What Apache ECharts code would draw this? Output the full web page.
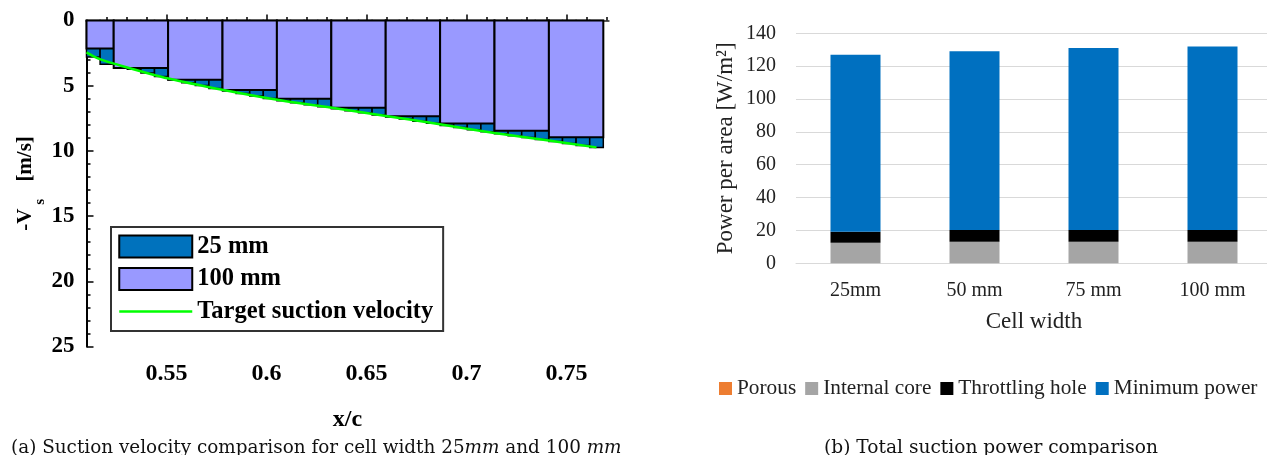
<!DOCTYPE html>
<html><head><meta charset="utf-8">
<script src="https://cdn.jsdelivr.net/npm/echarts@6/dist/echarts.min.js"></script>
<style>html,body{margin:0;padding:0;background:#fff}#c{width:1267px;height:455px}</style>
</head><body><div id="c"></div>
<script>
// ---------- (a) Suction velocity ----------
const edges25 = [0.5100, 0.5168, 0.5236, 0.5304, 0.5372, 0.5440, 0.5508, 0.5576, 0.5644, 0.5712,
  0.5780, 0.5848, 0.5916, 0.5984, 0.6052, 0.6120, 0.6188, 0.6256, 0.6324, 0.6392,
  0.6460, 0.6528, 0.6596, 0.6664, 0.6732, 0.6800, 0.6868, 0.6936, 0.7004, 0.7072,
  0.7140, 0.7208, 0.7276, 0.7344, 0.7412, 0.7480, 0.7548, 0.7616, 0.7684];
const vel25 = [2.80, 3.35, 3.45, 3.73, 4.02, 4.30, 4.55, 4.77, 4.99, 5.21,
  5.41, 5.60, 5.79, 5.98, 6.16, 6.31, 6.46, 6.61, 6.77, 6.92,
  7.08, 7.24, 7.40, 7.56, 7.72, 7.88, 8.05, 8.21, 8.38, 8.54,
  8.69, 8.84, 8.98, 9.13, 9.28, 9.43, 9.58, 9.73];
const edges100 = [0.5100, 0.5236, 0.5508, 0.5780, 0.6052, 0.6324, 0.6596, 0.6868, 0.7140, 0.7412, 0.7684];
const vel100 = [2.15, 3.65, 4.55, 5.33, 6.00, 6.70, 7.34, 7.90, 8.45, 8.95];
const targetX = [0.5100, 0.5135, 0.5166, 0.5237, 0.5510, 0.5785, 0.6069, 0.6320, 0.6597, 0.6867, 0.7139, 0.7411, 0.7650];
const targetV = [2.45, 2.75, 2.96, 3.31, 4.45, 5.33, 6.12, 6.68, 7.32, 7.96, 8.62, 9.20, 9.73];
const xMajorTicks = [0.55, 0.6, 0.65, 0.7, 0.75];
const xMinorTicks = [0.52, 0.53, 0.54, 0.56, 0.57, 0.58, 0.59, 0.61, 0.62, 0.63, 0.64,
  0.66, 0.67, 0.68, 0.69, 0.71, 0.72, 0.73, 0.74, 0.76, 0.77];

// ---------- (b) Total suction power ----------
const categories = ['25mm', '50 mm', '75 mm', '100 mm'];
const porous = [0, 0, 0, 0];
const internalCore = [12.5, 13.1, 13.1, 13.1];
const throttlingHole = [6.7, 7.1, 7.1, 7.1];
const minimumPower = [107.8, 108.8, 110.8, 111.8];

const TNR = "'Liberation Serif', 'Times New Roman', serif";
const CAP = "'DejaVu Serif', serif";

function cells(edges, vals) { return vals.map((v, i) => [edges[i], edges[i + 1], v]); }
function rectRenderer(lw) {
  return function (params, api) {
    const p0 = api.coord([api.value(0), 0]);
    const p1 = api.coord([api.value(1), api.value(2)]);
    return {
      type: 'rect',
      shape: { x: p0[0], y: p0[1], width: p1[0] - p0[0], height: p1[1] - p0[1] },
      style: { fill: api.visual('color'), stroke: '#000', lineWidth: lw }
    };
  };
}

const chart = echarts.init(document.getElementById('c'), null, { renderer: 'canvas' });
const boldTxt = { fontFamily: TNR, fontWeight: 'bold', color: '#000' };

chart.setOption({
  animation: false,
  backgroundColor: '#fff',
  title: [
    { text: '(a) Suction velocity comparison for cell width 25{i|mm} and 100 {i|mm}', left: 6, top: 434,
      textStyle: { fontFamily: CAP, fontWeight: 'normal', fontSize: 18.4, color: '#111',
        rich: { i: { fontFamily: CAP, fontStyle: 'italic', fontSize: 18.4, color: '#111' } } } },
    { text: '(b) Total suction power comparison', left: 986, textAlign: 'center', top: 434,
      textStyle: { fontFamily: CAP, fontWeight: 'normal', fontSize: 18.6, color: '#111' } }
  ],
  legend: [
    { orient: 'vertical', left: 111, top: 227, padding: [7, 10, 7, 7], itemGap: 7.5, itemWidth: 73, itemHeight: 22,
      borderColor: '#333', borderWidth: 2, backgroundColor: '#fff',
      textStyle: Object.assign({ fontSize: 24.5, lineHeight: 22 }, boldTxt),
      data: [
        { name: '25 mm', icon: 'rect', itemStyle: { color: '#0072bd', borderColor: '#000', borderWidth: 2 } },
        { name: '100 mm', icon: 'rect', itemStyle: { color: '#9999ff', borderColor: '#000', borderWidth: 2 } },
        { name: 'Target suction velocity', itemStyle: { color: 'rgba(0,0,0,0)', borderColor: 'rgba(0,0,0,0)', borderWidth: 0 },
          lineStyle: { color: '#00ff00', width: 2.5 } }
      ] },
    { orient: 'horizontal', left: 719, top: 378, width: 600, padding: 0, itemGap: 9, itemWidth: 13, itemHeight: 13, icon: 'rect',
      textStyle: { fontFamily: TNR, fontSize: 21.3, color: '#222' },
      data: ['Porous', 'Internal core', 'Throttling hole', 'Minimum power'] }
  ],
  grid: [
    { left: 86.5, top: 20.5, width: 522, height: 326, outerBoundsMode: 'none' },
    { left: 796, top: 33.3, width: 476, height: 230, outerBoundsMode: 'none' }
  ],
  xAxis: [
    { gridIndex: 0, type: 'value', min: 0.51, max: 0.771, position: 'bottom',
      axisLine: { show: true, lineStyle: { color: '#000', width: 2 } },
      axisTick: { show: true, inside: true, length: 6, customValues: xMajorTicks, lineStyle: { color: '#000', width: 1.5 } },
      axisLabel: Object.assign({ customValues: xMajorTicks, margin: 15, fontSize: 24 }, boldTxt),
      splitLine: { show: false },
      name: 'x/c', nameLocation: 'middle', nameGap: 61,
      nameTextStyle: Object.assign({ fontSize: 24 }, boldTxt) },
    { gridIndex: 0, type: 'value', min: 0.51, max: 0.771, position: 'bottom',
      axisLine: { show: false },
      axisTick: { show: true, inside: true, length: 3.5, customValues: xMinorTicks, lineStyle: { color: '#000', width: 1.5 } },
      axisLabel: { show: false }, splitLine: { show: false } },
    { gridIndex: 0, type: 'value', min: 0.51, max: 0.771, position: 'top',
      axisLine: { show: true, lineStyle: { color: '#777', width: 1.5 } },
      axisTick: { show: false }, axisLabel: { show: false }, splitLine: { show: false } },
    { gridIndex: 1, type: 'category', data: categories,
      axisLine: { show: true, lineStyle: { color: '#d9d9d9', width: 1 } },
      axisTick: { show: false },
      axisLabel: { margin: 17, fontFamily: TNR, fontSize: 20, color: '#222' },
      name: 'Cell width', nameLocation: 'middle', nameGap: 47,
      nameTextStyle: { fontFamily: TNR, fontSize: 23, color: '#222' } }
  ],
  yAxis: [
    { gridIndex: 0, type: 'value', inverse: true, min: 0, max: 25, interval: 5, position: 'left',
      axisLine: { show: true, lineStyle: { color: '#000', width: 2 } },
      axisTick: { show: true, inside: true, length: 7, lineStyle: { color: '#000', width: 1.5 } },
      axisLabel: Object.assign({ margin: 12, fontSize: 23 }, boldTxt),
      splitLine: { show: false },
      name: '{a|-V}{s|s}{a| [m/s]}', nameLocation: 'middle', nameGap: 44, nameRotate: 90,
      nameTextStyle: Object.assign({ fontSize: 21,
        rich: {
          a: { fontFamily: TNR, fontWeight: 'bold', fontSize: 21, color: '#000', verticalAlign: 'top', lineHeight: 22 },
          s: { fontFamily: TNR, fontWeight: 'bold', fontSize: 15, color: '#000', verticalAlign: 'top', lineHeight: 15, padding: [18, 12, 0, 4] }
        } }, boldTxt) },
    { gridIndex: 0, type: 'value', inverse: true, min: 0, max: 25, interval: 1, position: 'left', offset: 0,
      axisLine: { show: false },
      axisTick: { show: true, inside: true, length: 4, lineStyle: { color: '#000', width: 1.5 } },
      axisLabel: { show: false }, splitLine: { show: false } },
    { gridIndex: 1, type: 'value', min: 0, max: 140, interval: 20,
      axisLine: { show: false }, axisTick: { show: false },
      axisLabel: { margin: 20, fontFamily: TNR, fontSize: 20, color: '#222' },
      splitLine: { show: true, lineStyle: { color: '#d9d9d9', width: 1 } },
      name: 'Power per area [W/m²]', nameLocation: 'middle', nameGap: 59,
      nameTextStyle: { fontFamily: TNR, fontSize: 23, color: '#222' } }
  ],
  series: [
    { name: '25 mm', type: 'custom', xAxisIndex: 0, yAxisIndex: 0, z: 2,
      itemStyle: { color: '#0072bd' }, renderItem: rectRenderer(1.5),
      encode: { x: [0, 1], y: 2 }, data: cells(edges25, vel25) },
    { name: '100 mm', type: 'custom', xAxisIndex: 0, yAxisIndex: 0, z: 3,
      itemStyle: { color: '#9999ff' }, renderItem: rectRenderer(2),
      encode: { x: [0, 1], y: 2 }, data: cells(edges100, vel100) },
    { name: 'Target suction velocity', type: 'line', xAxisIndex: 0, yAxisIndex: 0, z: 4,
      symbol: 'none', smooth: 0.3, lineStyle: { color: '#00ff00', width: 2.5 }, itemStyle: { color: '#00ff00' },
      data: targetX.map((x, i) => [x, targetV[i]]) },

    { name: 'Porous', type: 'bar', stack: 'p', xAxisIndex: 3, yAxisIndex: 2, barWidth: 50,
      itemStyle: { color: '#ed7d31' }, data: porous },
    { name: 'Internal core', type: 'bar', stack: 'p', xAxisIndex: 3, yAxisIndex: 2, barWidth: 50,
      itemStyle: { color: '#a5a5a5' }, data: internalCore },
    { name: 'Throttling hole', type: 'bar', stack: 'p', xAxisIndex: 3, yAxisIndex: 2, barWidth: 50,
      itemStyle: { color: '#000000' }, data: throttlingHole },
    { name: 'Minimum power', type: 'bar', stack: 'p', xAxisIndex: 3, yAxisIndex: 2, barWidth: 50,
      itemStyle: { color: '#0070c0' }, data: minimumPower }
  ]
});
</script>
</body></html>
